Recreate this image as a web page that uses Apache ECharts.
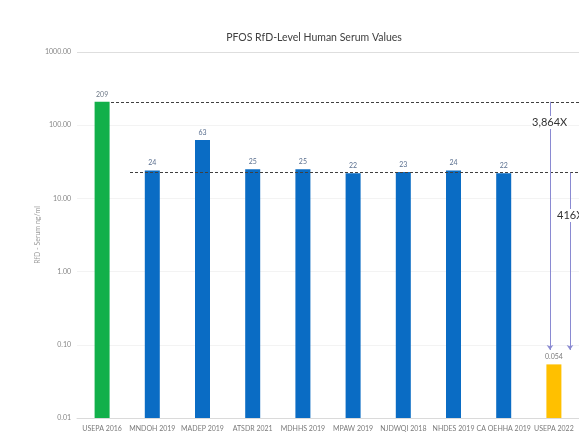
<!DOCTYPE html>
<html>
<head>
<meta charset="utf-8">
<script src="https://cdn.jsdelivr.net/npm/echarts@6/dist/echarts.min.js"></script>
<style>
  html, body { margin: 0; padding: 0; background: #fff; }
  #chart { width: 579px; height: 436px; }
</style>
</head>
<body>
<div id="chart"></div>
<script>
// Agencies / years on the category axis
const categories = ['USEPA 2016', 'MNDOH 2019', 'MADEP 2019', 'ATSDR 2021', 'MDHHS 2019',
  'MPAW 2019', 'NJDWQI 2018', 'NHDES 2019', 'CA OEHHA 2019', 'USEPA 2022'];
// RfD-level serum values (ng/ml)
const serumValues = [209, 24, 63, 25, 25, 22, 23, 24, 22, 0.054];
const valueLabels = ['209', '24', '63', '25', '25', '22', '23', '24', '22', '0.054'];
const barColors = ['#12b04a', '#0a6cc4', '#0a6cc4', '#0a6cc4', '#0a6cc4',
  '#0a6cc4', '#0a6cc4', '#0a6cc4', '#0a6cc4', '#ffc000'];
const labelColors = ['#6f7a88', '#5b7090', '#5b7090', '#5b7090', '#5b7090',
  '#5b7090', '#5b7090', '#5b7090', '#5b7090', '#7a7a7a'];
// Reference levels and the fold-difference annotations
const highRef = 209;
const lowRef = 22.5;
const arrowTip = 0.085;
const foldLabels = ['3,864X', '416X'];
const yTicks = [0.01, 0.1, 1, 10, 100, 1000];

const chart = echarts.init(document.getElementById('chart'));
const last = categories[categories.length - 1];
const dashStyle = { color: '#404040', type: [3, 2], width: 1 };
const arrowStyle = { color: '#8a8ad2', type: 'solid', width: 1 };
const BAR_W = 15;

// Bars rise from the bottom of the log axis, so they are drawn as custom shapes
function renderBar(params, api) {
  const i = api.value(0);
  const v = api.value(1);
  const top = api.coord([i, v]);
  const base = api.coord([i, yTicks[0]]);
  return {
    type: 'group',
    children: [
      { type: 'rect',
        shape: { x: top[0] - BAR_W / 2, y: top[1], width: BAR_W, height: base[1] - top[1] },
        style: { fill: barColors[i] } },
      { type: 'text',
        style: { text: valueLabels[i], x: top[0], y: top[1] - 4, align: 'center',
          verticalAlign: 'bottom', fill: labelColors[i], fontSize: 7, fontFamily: 'Lato' } }
    ]
  };
}

chart.setOption({
  animation: false,
  backgroundColor: '#ffffff',
  textStyle: { fontFamily: 'Lato' },
  title: {
    text: 'PFOS RfD-Level Human Serum Values',
    left: 309, top: 27, textAlign: 'center',
    textStyle: { fontFamily: 'Lato', fontSize: 10.5, fontWeight: 'normal', color: '#404040' }
  },
  grid: { left: 77, right: -9, top: 52, bottom: 18, containLabel: false },
  xAxis: {
    type: 'category',
    data: categories,
    axisLine: { lineStyle: { color: '#dadada' } },
    axisTick: { show: false },
    axisLabel: { color: '#7a7a7a', fontSize: 7, margin: 7, interval: 0 }
  },
  yAxis: {
    type: 'log',
    logBase: 10,
    min: yTicks[0],
    max: yTicks[yTicks.length - 1],
    interval: 1,
    name: 'RfD - Serum ng/ml',
    nameLocation: 'middle',
    nameGap: 36,
    nameMoveOverlap: false,
    nameTextStyle: { color: '#9a9a9a', fontSize: 7 },
    axisLine: { show: false },
    axisTick: { show: false },
    axisLabel: { color: '#858585', fontSize: 7, margin: 6,
      formatter: v => Number(v).toFixed(2) },
    splitLine: { lineStyle: { color: ['#f3f3f3', '#f3f3f3', '#f3f3f3', '#f3f3f3', '#f3f3f3', '#dedede'], width: 1 } }
  },
  series: [{
    type: 'custom',
    renderItem: renderBar,
    encode: { x: 0, y: 1 },
    data: serumValues.map((v, i) => [i, v]),
    markLine: {
      silent: true,
      symbol: 'none',
      label: { show: false },
      data: [
        [{ coord: [categories[0], highRef], x: 111, lineStyle: dashStyle },
         { coord: [last, highRef], x: 579 }],
        [{ coord: [categories[1], lowRef], x: 130, lineStyle: dashStyle },
         { coord: [last, lowRef], x: 579 }],
        [{ coord: [last, highRef], x: 550, symbol: 'none', lineStyle: arrowStyle },
         { coord: [last, arrowTip], x: 550, symbol: 'arrow', symbolSize: 5 }],
        [{ coord: [last, lowRef], x: 570, symbol: 'none', lineStyle: arrowStyle },
         { coord: [last, arrowTip], x: 570, symbol: 'arrow', symbolSize: 5 }]
      ]
    }
  }],
  graphic: [
    { type: 'text', left: 531, top: 116, z: 100,
      style: { text: foldLabels[0], fill: '#333', fontSize: 11, fontFamily: 'Lato',
        backgroundColor: '#fff', padding: [1, 1] } },
    { type: 'text', left: 556, top: 209, z: 100,
      style: { text: foldLabels[1], fill: '#333', fontSize: 11, fontFamily: 'Lato',
        backgroundColor: '#fff', padding: [1, 1] } }
  ]
});
</script>
</body>
</html>
